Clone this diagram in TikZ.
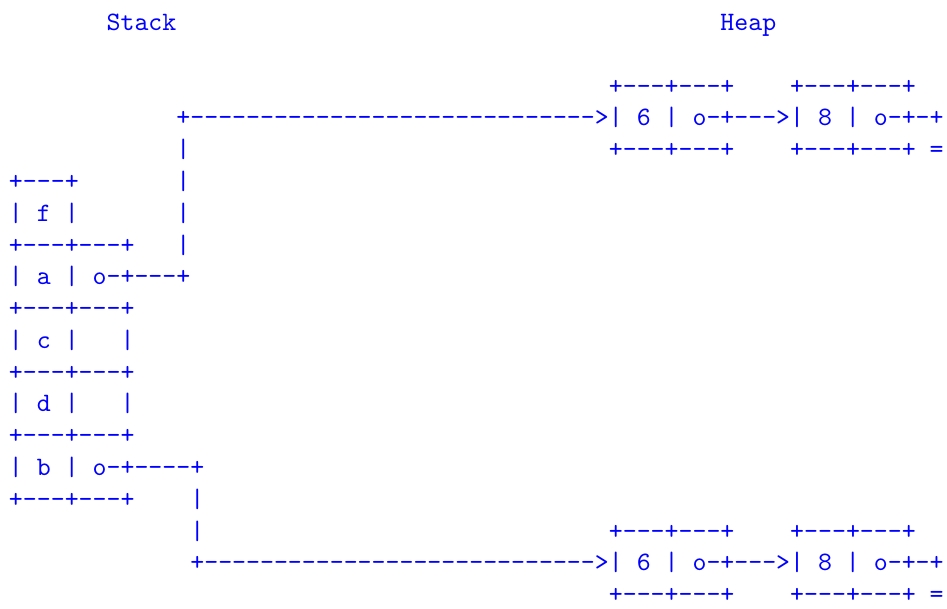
\documentclass[tikz,border=0pt]{standalone}
\usepackage{fontspec}
% the 10pt design of Latin Modern Mono, scaled up
\setmonofont{lmmono10-regular}[Extension=.otf,WordSpace={1,0,0},HyphenChar=None]
\tikzset{
  ascii/.style={anchor=base west, inner sep=0pt, outer sep=0pt,
    text=blue, font=\ttfamily\fontsize{26.57}{31.8}\selectfont},
}
% place a run of characters at a column/row of the character grid
\newcommand\cell[4]{\node[ascii] (#1) at ({9+13.95*#2},{608-(30.5+31.79*#3)}) {#4};}
% a run of n dashes
\newcommand\dashrun[1]{\foreach\i in {1,...,#1}{-}}
\begin{document}
\begin{tikzpicture}[x=1pt,y=1pt]
\useasboundingbox (0,0) rectangle (947,608);
% headings
\cell{stacklbl}{7}{0}{Stack}
\cell{heaplbl}{51}{0}{Heap}
% upper list
\cell{hAtop}{43}{2}{+---+---+}
\cell{hBtop}{56}{2}{+---+---+}
\cell{ptrA}{12}{3}{+\dashrun{29}}
\cell{listA}{42}{3}{>| 6 | o-+--->| 8 | o-+-+}
\cell{vA1}{12}{4}{|}
\cell{hAbot}{43}{4}{+---+---+}
\cell{hBbot}{56}{4}{+---+---+ =}
% stack frames
\cell{s1}{0}{5}{+---+}
\cell{vA2}{12}{5}{|}
\cell{s2}{0}{6}{| f |}
\cell{vA3}{12}{6}{|}
\cell{s3}{0}{7}{+---+---+}
\cell{vA4}{12}{7}{|}
\cell{s4}{0}{8}{| a | o-+---+}
\cell{s5}{0}{9}{+---+---+}
\cell{s6}{0}{10}{| c |}
\cell{s6r}{8}{10}{|}
\cell{s7}{0}{11}{+---+---+}
\cell{s8}{0}{12}{| d |}
\cell{s8r}{8}{12}{|}
\cell{s9}{0}{13}{+---+---+}
\cell{s10}{0}{14}{| b | o-+----+}
\cell{s11}{0}{15}{+---+---+}
\cell{vB1}{13}{15}{|}
% lower list
\cell{vB2}{13}{16}{|}
\cell{hCtop}{43}{16}{+---+---+}
\cell{hDtop}{56}{16}{+---+---+}
\cell{ptrB}{13}{17}{+\dashrun{28}}
\cell{listB}{42}{17}{>| 6 | o-+--->| 8 | o-+-+}
\cell{hCbot}{43}{18}{+---+---+}
\cell{hDbot}{56}{18}{+---+---+ =}
\end{tikzpicture}
\end{document}
